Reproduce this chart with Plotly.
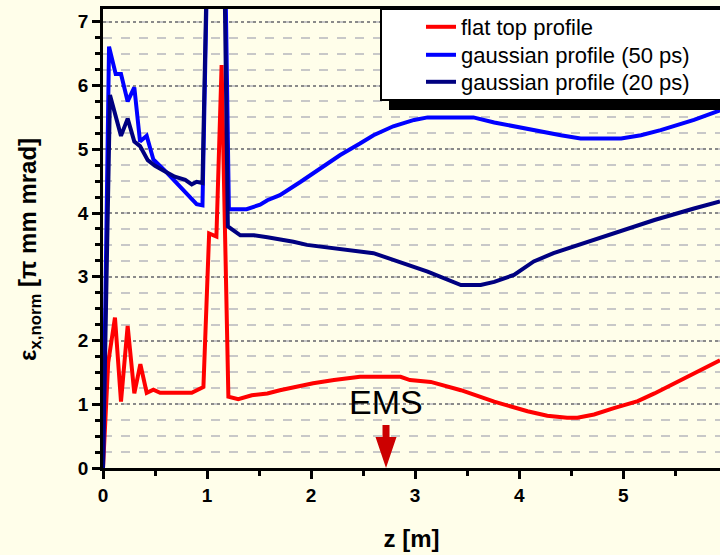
import plotly.graph_objects as go

# ---------------- data ----------------
z_flat = [0, 0.05, 0.115, 0.173, 0.237, 0.301, 0.359, 0.42, 0.484, 0.549, 0.70, 0.853, 0.965,
          1.02, 1.09, 1.14, 1.205, 1.30, 1.43, 1.58, 1.70, 1.83, 2.02, 2.22, 2.47, 2.86, 2.95,
          3.15, 3.34, 3.44, 3.76, 4.08, 4.27, 4.46, 4.56, 4.72, 4.91, 5.14, 5.30, 5.52, 5.68,
          5.81, 5.93]
eps_flat = [0, 1.65, 2.36, 1.04, 2.23, 1.17, 1.63, 1.18, 1.23, 1.18, 1.18, 1.18, 1.27,
            3.68, 3.63, 6.32, 1.12, 1.08, 1.14, 1.17, 1.22, 1.27, 1.33, 1.38, 1.43, 1.43, 1.38,
            1.35, 1.26, 1.22, 1.04, 0.89, 0.82, 0.79, 0.79, 0.84, 0.94, 1.05, 1.17, 1.35, 1.48,
            1.59, 1.69]

z_g50 = [0, 0.058, 0.122, 0.173, 0.237, 0.301, 0.356, 0.42, 0.484, 0.597, 0.90, 0.956, 1.10,
         1.21, 1.38, 1.51, 1.58, 1.70, 1.90, 2.09, 2.28, 2.47, 2.60, 2.79, 2.99, 3.12, 3.56,
         3.76, 3.95, 4.14, 4.40, 4.59, 4.98, 5.17, 5.36, 5.68, 5.93]
eps_g50 = [0, 6.61, 6.18, 6.18, 5.75, 5.97, 5.12, 5.21, 4.84, 4.66, 4.14, 4.12, 16,
           4.06, 4.06, 4.13, 4.20, 4.28, 4.49, 4.70, 4.91, 5.09, 5.22, 5.36, 5.46, 5.50, 5.50,
           5.42, 5.36, 5.29, 5.22, 5.17, 5.17, 5.22, 5.30, 5.46, 5.61]

z_g20 = [0, 0.067, 0.173, 0.237, 0.301, 0.356, 0.43, 0.50, 0.597, 0.69, 0.79, 0.853, 0.90,
         0.956, 1.10, 1.20, 1.32, 1.45, 1.58, 1.70, 1.83, 1.96, 2.22, 2.47, 2.60, 3.12, 3.28,
         3.44, 3.63, 3.76, 3.95, 4.14, 4.33, 4.72, 5.04, 5.30, 5.68, 5.93]
eps_g20 = [0, 5.85, 5.21, 5.48, 5.12, 5.05, 4.83, 4.74, 4.65, 4.57, 4.52, 4.45, 4.49,
           4.47, 16, 3.79, 3.65, 3.65, 3.62, 3.59, 3.55, 3.50, 3.45, 3.40, 3.37, 3.08, 2.98,
           2.87, 2.87, 2.92, 3.03, 3.24, 3.37, 3.58, 3.74, 3.89, 4.07, 4.18]

series_names = ["flat top profile", "gaussian profile (50 ps)", "gaussian profile (20 ps)"]
series_colors = ["#ff0000", "#0000ff", "#000080"]

x_range = [0, 5.93]
y_range = [0, 7.2]
x_ticks = [0, 1, 2, 3, 4, 5]
y_ticks = [0, 1, 2, 3, 4, 5, 6, 7]
ems_z = 2.72
ems_label = "EMS"

# ---------------- figure ----------------
FONT = "Liberation Sans, Arial, sans-serif"
BG = "#fffeea"

W, H = 720, 555
ML, MR, MT, MB = 103, 0, 9, 87
PW, PH = W - ML - MR, H - MT - MB


def px_x(px):
    return (px - ML) / PW


def px_y(py):
    return (H - MB - py) / PH


legend_ids = ["legend", "legend2", "legend3"]
row_centers = [27, 55, 82]

fig = go.Figure()
for zz, ee, name, col, lid in zip([z_flat, z_g50, z_g20], [eps_flat, eps_g50, eps_g20],
                                  series_names, series_colors, legend_ids):
    fig.add_trace(go.Scatter(x=zz, y=ee, mode="lines", name=name, legend=lid,
                             line=dict(color=col, width=4)))

legend_style = dict(xanchor="left", yanchor="middle", bgcolor="rgba(0,0,0,0)", borderwidth=0,
                    font=dict(family=FONT, size=22, color="black"))
layout_legends = {}
for lid, rc in zip(legend_ids, row_centers):
    layout_legends[lid] = dict(x=px_x(421), y=px_y(rc), **legend_style)

fig.update_layout(
    width=W, height=H,
    margin=dict(l=ML, r=MR, t=MT, b=MB),
    paper_bgcolor=BG, plot_bgcolor=BG,
    font=dict(family=FONT, color="black"),
    showlegend=True,
    **layout_legends,
)

fig.update_xaxes(
    range=x_range, tickvals=x_ticks, showgrid=False, zeroline=False,
    showline=True, linecolor="black", linewidth=2.5, mirror=True,
    ticks="outside", ticklen=8, tickwidth=2.5, tickcolor="black",
    tickfont=dict(family=FONT, size=19, color="black", weight="bold"),
    minor=dict(dtick=0.5, tick0=0, ticks="outside", ticklen=5, tickwidth=2.5, tickcolor="black"),
    title=dict(text="<b>z [m]</b>", font=dict(family=FONT, size=24, color="black"), standoff=26),
)
fig.update_yaxes(
    range=y_range, tickvals=y_ticks, zeroline=False,
    showline=True, linecolor="black", linewidth=2.5, mirror=False,
    ticks="outside", ticklen=8, tickwidth=2.5, tickcolor="black",
    tickfont=dict(family=FONT, size=19, color="black", weight="bold"),
    showgrid=True, gridcolor="#8a8a8a", griddash="dot", gridwidth=1.5,
    minor=dict(dtick=0.25, tick0=0, ticks="outside", ticklen=5, tickwidth=2.5, tickcolor="black",
               showgrid=True, gridcolor="#c8c8c8", griddash="dash", gridwidth=1.5),
)

# y axis title
fig.add_annotation(
    text="<b>ε<sub>x,norm</sub> [π mm mrad]</b>", textangle=-90,
    xref="paper", yref="paper", x=px_x(29), y=px_y(250),
    xanchor="center", yanchor="middle", showarrow=False,
    font=dict(family=FONT, size=24, color="black"),
)

# legend frame with drop shadow
fig.add_shape(type="rect", xref="paper", yref="paper", layer="above",
              x0=px_x(389), x1=1.05, y0=px_y(110), y1=px_y(20),
              fillcolor="black", line=dict(width=0))
fig.add_shape(type="rect", xref="paper", yref="paper", layer="above",
              x0=px_x(381), x1=1.05, y0=px_y(100), y1=px_y(9),
              fillcolor="white", line=dict(color="black", width=2))

# EMS marker
fig.add_annotation(text=ems_label, x=ems_z, y=1.04, xref="x", yref="y",
                   showarrow=False, xanchor="center", yanchor="middle",
                   font=dict(family=FONT, size=34, color="black"))
fig.add_shape(type="path", xref="x", yref="y", xsizemode="pixel", ysizemode="pixel",
              xanchor=ems_z, yanchor=0, layer="above",
              path="M-3.5,43 L3.5,43 L3.5,31 L10.5,31 L0,0 L-10.5,31 L-3.5,31 Z",
              fillcolor="#cc0000", line=dict(width=0))

fig.write_html("out.html")
